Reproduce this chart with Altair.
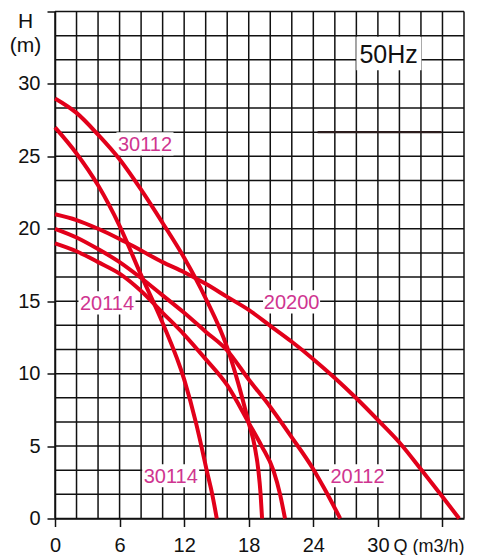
import altair as alt
import pandas as pd

# ---- curve data (Q in m3/h, H in m) ----
q_30112 = [0, 2, 4, 6, 8, 10, 12, 14, 16, 17, 18, 18.55, 18.9, 19.1, 19.24]
h_30112 = [29, 28.0, 26.5, 24.8, 22.7, 20.4, 18.0, 15.2, 11.8, 9.4, 6.6, 5.0, 3.3, 1.7, 0]
q_30114 = [0, 2, 4, 6, 8, 10, 12, 13.1, 13.6, 14.1, 14.6, 15.03]
h_30114 = [27, 25.2, 23.0, 20.2, 16.8, 13.5, 9.6, 6.6, 5.0, 3.3, 1.7, 0]
q_20114 = [0, 2, 4, 6, 8, 10, 12, 14, 16, 18, 19.2, 20.3, 20.9, 21.37]
h_20114 = [19, 18.45, 17.7, 16.9, 15.7, 14.2, 12.7, 11.0, 9.2, 6.6, 5.0, 3.3, 1.7, 0]
q_20112 = [0, 2, 4, 6, 8, 10, 12, 14, 16, 18, 20, 22, 24, 25, 26.5]
h_20112 = [20, 19.4, 18.6, 17.7, 16.6, 15.4, 14.2, 12.9, 11.6, 9.6, 7.7, 5.6, 3.4, 2.1, 0]
q_20200 = [0, 2, 4, 6, 8, 10, 12, 14, 16, 18, 20, 22, 24, 26, 28, 30, 32, 34, 36, 37.55]
h_20200 = [21, 20.6, 20.0, 19.3, 18.5, 17.7, 17.0, 16.2, 15.3, 14.4, 13.3, 12.2, 11.0, 9.7, 8.3, 6.8, 5.25, 3.4, 1.5, 0]

# ---- curve labels ----
label_text = ["30112", "30114", "20114", "20112", "20200"]
label_q = [8.36, 10.75, 4.83, 28.11, 21.98]
label_h = [25.86, 2.95, 14.89, 2.95, 14.96]

# ---- frequency note ----
note_text = ["50Hz"]
note_q = [31.0]
note_h = [32.07]

# ---- axis ticks ----
x_ticks = [0, 6, 12, 18, 24, 30, 36]
y_ticks = [0, 5, 10, 15, 20, 25, 30, 35]

RED = "#E2001A"
PINK = "#CF3590"
W, H = 409, 507

rows = []
for name, qs, hs in [("30112", q_30112, h_30112), ("30114", q_30114, h_30114),
                     ("20114", q_20114, h_20114), ("20112", q_20112, h_20112),
                     ("20200", q_20200, h_20200)]:
    for i, (q, h) in enumerate(zip(qs, hs)):
        rows.append({"model": name, "Q": q, "H": h, "order": i})
curves = pd.DataFrame(rows)

labels = pd.DataFrame({"text": label_text, "Q": label_q, "H": label_h})
note = pd.DataFrame({"text": note_text, "Q": note_q, "H": note_h})

xgrid = pd.DataFrame({"Q": [2 * i for i in range(20)]})
ygrid = pd.DataFrame({"H": [5 * i / 3 for i in range(22)]})
seg = pd.DataFrame({"Q": [24.4], "Q2": [35.9], "H": [80 / 3]})

xs = alt.Scale(domain=[0, 38], nice=False, zero=True)
ys = alt.Scale(domain=[0, 35], nice=False, zero=True)

X_AX = alt.Axis(
    values=x_ticks, grid=False, domain=True, domainColor="#111", domainWidth=1.5,
    ticks=True, tickSize=8, tickWidth=1.5, tickColor="#111",
    labelExpr="datum.value >= 36 ? '' : datum.label",
    labelFont="Liberation Sans", labelFontSize=20, labelColor="#111",
    labelBaseline="alphabetic", labelPadding=25, labelFlush=False,
    title="Q (m3/h)", titleFont="Liberation Sans", titleFontSize=18,
    titleFontWeight="normal", titleColor="#111", titleAlign="left",
    titleAnchor="start", titleX=338, titleY=33, titleBaseline="alphabetic")
Y_AX = alt.Axis(
    values=y_ticks, grid=False, domain=True, domainColor="#111", domainWidth=1.5,
    ticks=True, tickSize=8, tickWidth=1.5, tickColor="#111",
    labelExpr="datum.value >= 35 ? '' : datum.label",
    labelFont="Liberation Sans", labelFontSize=20, labelColor="#111",
    labelPadding=7, labelFlush=False,
    title=["H", "(m)"], titleFont="Liberation Sans", titleFontSize=21,
    titleFontWeight="normal", titleColor="#111", titleAngle=0,
    titleAlign="center", titleX=-30, titleY=16, titleBaseline="alphabetic",
    titleLineHeight=24)


def X(f):
    return alt.X(f, scale=xs, axis=X_AX)


def Y(f):
    return alt.Y(f, scale=ys, axis=Y_AX)


vgrid = alt.Chart(xgrid).mark_rule(color="#111", strokeWidth=1.5).encode(x=X("Q:Q"))
hgrid = alt.Chart(ygrid).mark_rule(color="#111", strokeWidth=1.5).encode(y=Y("H:Q"))
dark = alt.Chart(seg).mark_rule(color="#2b1c1c", strokeWidth=2.3).encode(
    x=X("Q:Q"), x2="Q2:Q", y=Y("H:Q"))

boxes = alt.Chart(labels).transform_calculate(
    x1="datum.Q - 2.65", x2="datum.Q + 2.65",
    y1="datum.H - 0.8", y2="datum.H + 0.8"
).mark_rect(color="white").encode(
    x=X("x1:Q"), x2="x2:Q", y=Y("y1:Q"), y2="y2:Q")

note_box = alt.Chart(note).transform_calculate(
    x1="datum.Q - 3.0", x2="datum.Q + 3.05",
    y1="datum.H - 1.12", y2="datum.H + 1.18"
).mark_rect(color="white").encode(
    x=X("x1:Q"), x2="x2:Q", y=Y("y1:Q"), y2="y2:Q")

lines = alt.Chart(curves).mark_line(
    color=RED, strokeWidth=4, interpolate="monotone", strokeCap="butt"
).encode(
    x=X("Q:Q"), y=Y("H:Q"),
    detail="model:N",
    order="order:Q")

label_marks = alt.Chart(labels).mark_text(
    font="Liberation Sans", fontSize=20, color=PINK, baseline="middle", dy=1
).encode(x=X("Q:Q"), y=Y("H:Q"), text="text:N")

note_mark = alt.Chart(note).mark_text(
    font="Liberation Sans", fontSize=25, color="#111", baseline="middle", dy=1
).encode(x=X("Q:Q"), y=Y("H:Q"), text="text:N")

chart = alt.layer(
    vgrid, hgrid, dark, boxes, note_box, lines, label_marks, note_mark
).properties(
    width=W, height=H,
    autosize=alt.AutoSizeParams(type="none"),
    padding={"left": 47, "top": 3.5, "right": 5, "bottom": 36},
    background="white"
).configure_view(stroke=None)

chart.save("out.html", embed_options={"renderer": "svg", "actions": False})
